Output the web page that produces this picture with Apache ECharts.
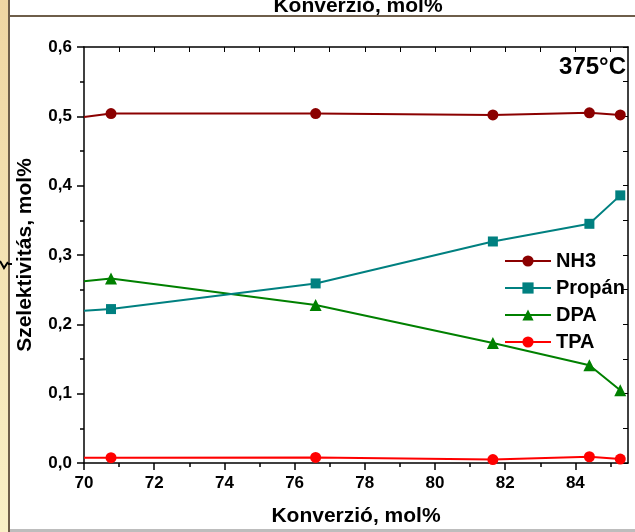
<!DOCTYPE html>
<html>
<head>
<meta charset="utf-8">
<script src="https://cdn.jsdelivr.net/npm/echarts@6/dist/echarts.min.js"></script>
<style>html,body{margin:0;padding:0;background:#fff}#c{width:635px;height:532px}</style>
</head>
<body>
<div id="c"></div>
<script>
// Conversion (x) values; first entry is where the lines enter the plot at the left edge (no marker)
const konverzio = [70, 70.77, 76.6, 81.65, 84.4, 85.28];
const nh3    = [0.499, 0.504, 0.504, 0.502, 0.505, 0.502];
const propan = [0.2195, 0.222, 0.259, 0.3195, 0.345, 0.386];
const dpa    = [0.262, 0.266, 0.228, 0.173, 0.141, 0.105];
const tpa    = [0.0075, 0.0076, 0.008, 0.005, 0.009, 0.0057];
const seriesNames = ['NH3', 'Propán', 'DPA', 'TPA'];
const xLabelTicks = [70, 72, 74, 76, 78, 80, 82, 84];
const xMinorTicks = [71, 73, 75, 77, 79, 81, 83, 85];
const xTopTicks = [71, 72, 73, 74, 75, 76, 77, 78, 79, 80, 81, 82, 83, 84, 85];

const FONT = '"Liberation Sans", Arial, sans-serif';
const chart = echarts.init(document.getElementById('c'), null, {renderer: 'canvas'});

function mk(vals) {
  return konverzio.map((x, i) => i === 0 ? {value: [x, vals[i]], symbol: 'none'} : [x, vals[i]]);
}
const colors = ['#8B0000', '#008080', '#008000', '#FF0000'];
const symbols = ['circle', 'rect', 'triangle', 'circle'];
const sizes = [11, 10, 12, 11];
const vals = [nh3, propan, dpa, tpa];

const series = seriesNames.map((n, i) => ({
  name: n, type: 'line', xAxisIndex: 0, yAxisIndex: 0,
  data: mk(vals[i]), symbol: symbols[i], symbolSize: sizes[i], showSymbol: true,
  lineStyle: {color: colors[i], width: 2}, itemStyle: {color: colors[i]},
  animation: false, z: 10 - i
}));

const baseX = {type: 'value', min: 70, max: 85.5, splitLine: {show: false}};
chart.setOption({
  animation: false,
  grid: {left: 84, right: 7, top: 47, bottom: 65, containLabel: false},
  xAxis: [
    Object.assign({}, baseX, {
      position: 'bottom',
      axisLine: {show: true, lineStyle: {color: '#000', width: 1.5}},
      axisTick: {show: true, inside: false, length: 7, customValues: xLabelTicks, lineStyle: {color: '#000', width: 1.5}},
      axisLabel: {customValues: xLabelTicks, margin: 12, color: '#000', fontSize: 17, fontWeight: 'bold', fontFamily: FONT},
      name: 'Konverzió, mol%', nameLocation: 'middle', nameGap: 43,
      nameTextStyle: {color: '#000', fontSize: 21, fontWeight: 'bold', fontFamily: FONT}
    }),
    Object.assign({}, baseX, {
      position: 'bottom',
      axisLine: {show: false},
      axisTick: {show: true, inside: false, length: 4, customValues: xMinorTicks, lineStyle: {color: '#000', width: 1.5}},
      axisLabel: {show: false}
    }),
    Object.assign({}, baseX, {
      position: 'top',
      axisLine: {show: true, lineStyle: {color: '#000', width: 1.5}},
      axisTick: {show: true, inside: true, length: 5, customValues: xTopTicks, lineStyle: {color: '#000', width: 1}},
      axisLabel: {show: false}
    })
  ],
  yAxis: [
    {
      type: 'value', min: 0, max: 0.6, interval: 0.1, position: 'left',
      splitLine: {show: false},
      axisLine: {show: true, lineStyle: {color: '#000', width: 1.5}},
      axisTick: {show: true, inside: false, length: 7, lineStyle: {color: '#000', width: 1.5}},
      minorTick: {show: true, splitNumber: 2, length: 4, lineStyle: {color: '#000', width: 1.5}},
      axisLabel: {margin: 12, color: '#000', fontSize: 17, fontWeight: 'bold', fontFamily: FONT,
        formatter: v => v.toFixed(1).replace('.', ',')},
      name: 'Szelektivitás, mol%', nameLocation: 'middle', nameGap: 48, nameRotate: 90,
      nameTextStyle: {color: '#000', fontSize: 21, fontWeight: 'bold', fontFamily: FONT}
    },
    {
      type: 'value', min: 0, max: 0.6, interval: 0.05, position: 'right',
      splitLine: {show: false},
      axisLine: {show: true, lineStyle: {color: '#000', width: 1.5}},
      axisTick: {show: true, inside: true, length: 5, lineStyle: {color: '#000', width: 1}},
      axisLabel: {show: false}
    }
  ],
  legend: {
    data: seriesNames, orient: 'vertical', left: 504, top: 251,
    itemWidth: 46, itemHeight: 14, itemGap: 7, padding: 0,
    textStyle: {color: '#000', fontSize: 20, fontWeight: 'bold', fontFamily: FONT}
  },
  graphic: [
    {type: 'rect', shape: {x: 0, y: 0, width: 8, height: 532}, silent: true,
      style: {fill: new echarts.graphic.LinearGradient(0, 0, 0, 1, [{offset: 0, color: '#EFD6A2'}, {offset: 1, color: '#F9F0C6'}])}},
    {type: 'rect', shape: {x: 8, y: 0, width: 2, height: 532}, silent: true, style: {fill: '#6E5E4A'}},
    {type: 'rect', shape: {x: 10, y: 15, width: 625, height: 2}, silent: true, style: {fill: '#6E5E4A'}},
    {type: 'rect', shape: {x: 10, y: 529, width: 625, height: 3}, silent: true, style: {fill: '#BDBDBD'}},
    {type: 'text', x: 358, y: 6, silent: true,
      style: {text: 'Konverzió, mol%', fill: '#000', font: 'bold 21px ' + FONT, textAlign: 'center', textVerticalAlign: 'middle'}},
    {type: 'polyline', silent: true, shape: {points: [[0, 261], [4, 268], [8, 262]]}, style: {stroke: '#000', lineWidth: 2, fill: null}},
    {type: 'line', silent: true, shape: {x1: 8, y1: 264, x2: 12, y2: 264}, style: {stroke: '#000', lineWidth: 2}},
    {type: 'text', right: 9, top: 55, silent: true,
      style: {text: '375°C', fill: '#000', font: 'bold 24px ' + FONT}}
  ],
  series: series
});
</script>
</body>
</html>
